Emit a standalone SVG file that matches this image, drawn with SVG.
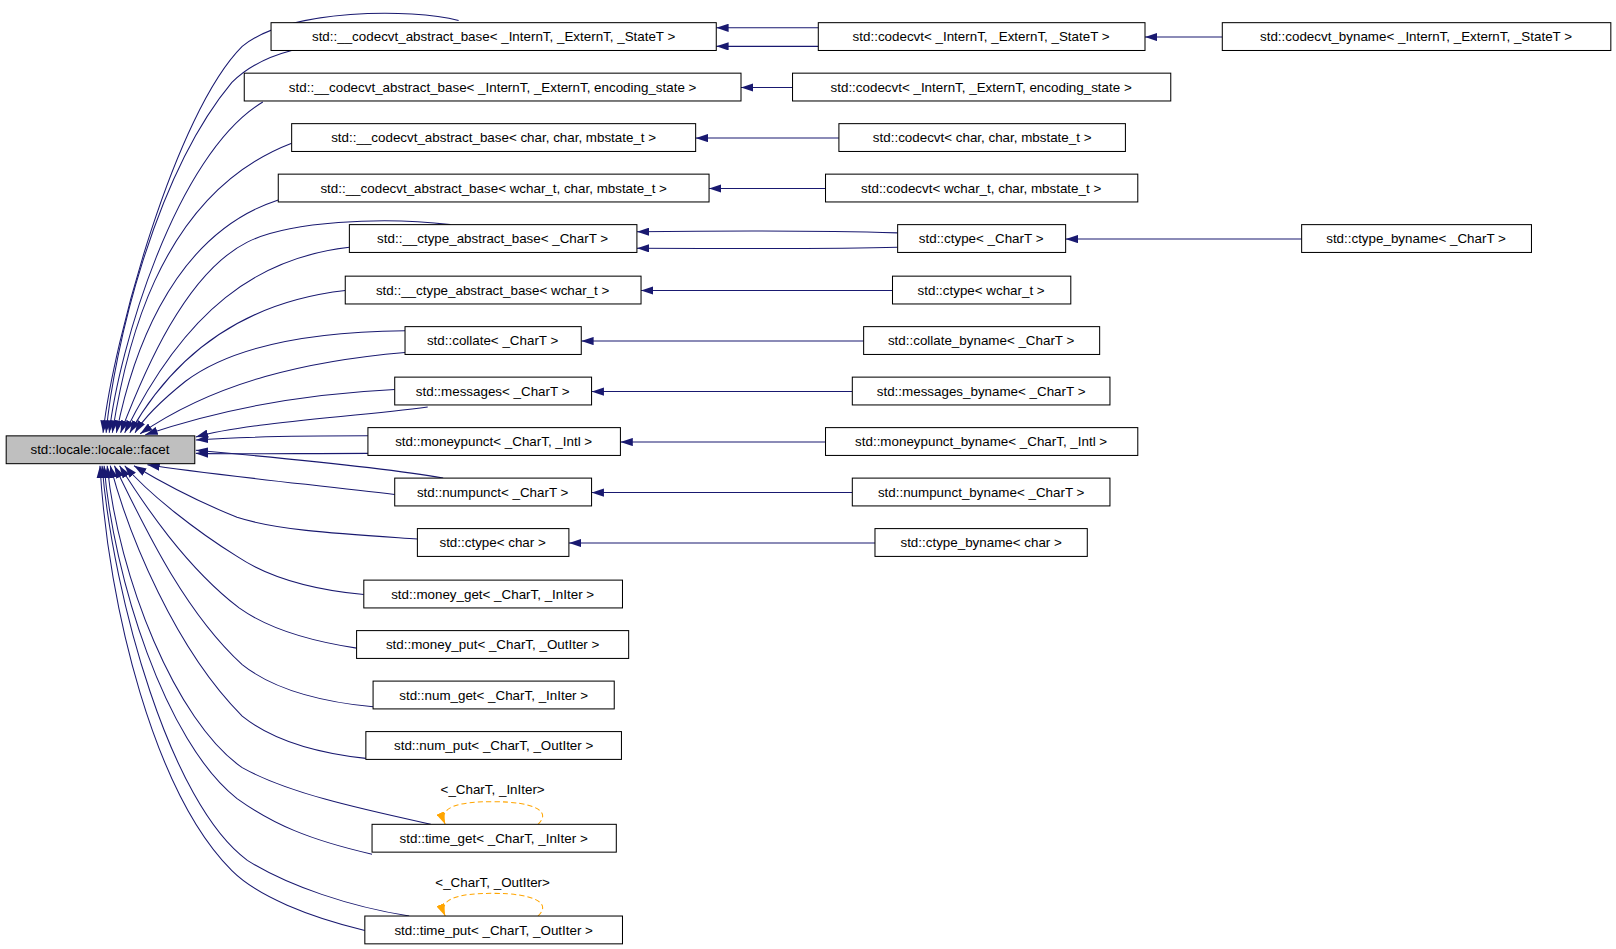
<svg xmlns="http://www.w3.org/2000/svg" width="1616" height="949" viewBox="0 0 1616 949">
<style>
.n rect{fill:#fff;stroke:#000;stroke-width:1}
.n text{font-family:"Liberation Sans",Arial,sans-serif;font-size:13px;text-anchor:middle;fill:#000}
.e path{fill:none;stroke:#191970;stroke-width:1;marker-end:url(#a)}
.s path{fill:none;stroke:#ffa500;stroke-width:1;stroke-dasharray:5,3;marker-end:url(#o)}
.lbl{font-family:"Liberation Sans",Arial,sans-serif;font-size:13px;text-anchor:middle}
</style>
<defs>
<marker id="a" viewBox="0 0 12 8" refX="12" refY="4" markerWidth="12" markerHeight="8" markerUnits="userSpaceOnUse" orient="auto"><path d="M0,0 L12,4 L0,8 z" fill="#191970"/></marker>
<marker id="o" viewBox="0 0 12 8" refX="12" refY="4" markerWidth="12" markerHeight="8" markerUnits="userSpaceOnUse" orient="auto"><path d="M0,0 L12,4 L0,8 z" fill="#ffa500"/></marker>
</defs>
<rect width="1616" height="949" fill="#fff"/>
<g transform="scale(1.0306,1.0304)">
<g id="edges" class="e">
<path d="M445,20 C400,8 280,8 235,45 C170,110 110,330 100,420"/>
<path d="M283,49 C260,55 240,65 225,80 C150,170 110,340 103,420"/>
<path d="M255,99 C170,150 115,340 106,420"/>
<path d="M283,139 C150,190 120,350 109,420"/>
<path d="M270,194 C160,230 125,360 113,420"/>
<path d="M437,218 C370,210 280,215 240,235 C180,265 140,360 117,420"/>
<path d="M339,240 C250,250 180,300 121,420"/>
<path d="M335,282 C220,295 160,360 126,420"/>
<path d="M393,321 C290,322 220,340 180,370 C155,390 140,405 131,420"/>
<path d="M393,342 C300,350 210,370 136,421"/>
<path d="M383,378 C300,382 220,395 141,422"/>
<path d="M415,395 C340,405 240,410 190,424"/>
<path d="M357,423 C290,423 230,424 190,427"/>
<path d="M357,440 C290,440 230,441 190,440"/>
<path d="M430,464 C380,455 280,445 190,437"/>
<path d="M383,480 C300,470 200,460 143,451"/>
<path d="M405,523 C330,518 270,515 230,502 C200,490 160,470 130,452"/>
<path d="M353,577 C300,572 260,560 230,540 C190,515 145,480 121,452"/>
<path d="M346,629 C300,622 260,610 232,590 C180,550 140,490 116,452"/>
<path d="M362,686 C300,680 260,665 235,645 C175,590 135,500 111,452"/>
<path d="M355,736 C300,730 260,715 235,695 C170,630 125,520 107,452"/>
<path d="M418,800 C350,785 280,770 235,745 C170,700 115,560 104,452"/>
<path d="M361,829 C300,815 265,800 230,775 C160,720 110,560 101,452"/>
<path d="M397,889 C340,880 280,860 240,835 C165,780 110,580 99,452"/>
<path d="M354,903 C300,890 250,870 225,845 C150,770 105,590 97,452"/>
<path d="M794,27 L695,27"/>
<path d="M794,45 L695,45"/>
<path d="M769,85 L719,85"/>
<path d="M814,134 L675,134"/>
<path d="M801,183 L688,183"/>
<path d="M871,226 C800,224 700,224 618,225"/>
<path d="M871,240 C800,242 700,241 618,241"/>
<path d="M866,282 L622,282"/>
<path d="M838,331 L564,331"/>
<path d="M827,380 L574,380"/>
<path d="M801,429 L602,429"/>
<path d="M827,478 L574,478"/>
<path d="M849,527 L552,527"/>
<path d="M1186,36 L1111,36"/>
<path d="M1263,232 L1034,232"/>
</g>
<g id="selfloops" class="s">
<path d="M522,800 C535,788 520,778 478,778 C442,778 425,784 432,800"/>
<path d="M522,889 C535,877 520,867 478,867 C442,867 425,873 432,889"/>
</g>
<text class="lbl" x="478" y="771">&lt;_CharT, _InIter&gt;</text>
<text class="lbl" x="478" y="861">&lt;_CharT, _OutIter&gt;</text>
<g id="facet" class="n"><rect x="6" y="423" width="183" height="27" style="fill:#bfbfbf"/><text x="97" y="441">std::locale::locale::facet</text></g>
<g id="n1" class="n"><rect x="263" y="22" width="432" height="27"/><text x="479" y="40">std::__codecvt_abstract_base&lt; _InternT, _ExternT, _StateT &gt;</text></g>
<g id="n2" class="n"><rect x="237" y="71" width="482" height="27"/><text x="478" y="89">std::__codecvt_abstract_base&lt; _InternT, _ExternT, encoding_state &gt;</text></g>
<g id="n3" class="n"><rect x="283" y="120" width="392" height="27"/><text x="479" y="138">std::__codecvt_abstract_base&lt; char, char, mbstate_t &gt;</text></g>
<g id="n4" class="n"><rect x="270" y="169" width="418" height="27"/><text x="479" y="187">std::__codecvt_abstract_base&lt; wchar_t, char, mbstate_t &gt;</text></g>
<g id="n5" class="n"><rect x="339" y="218" width="279" height="27"/><text x="478" y="236">std::__ctype_abstract_base&lt; _CharT &gt;</text></g>
<g id="n6" class="n"><rect x="335" y="268" width="287" height="27"/><text x="478" y="286">std::__ctype_abstract_base&lt; wchar_t &gt;</text></g>
<g id="n7" class="n"><rect x="393" y="317" width="171" height="27"/><text x="478" y="335">std::collate&lt; _CharT &gt;</text></g>
<g id="n8" class="n"><rect x="383" y="366" width="191" height="27"/><text x="478" y="384">std::messages&lt; _CharT &gt;</text></g>
<g id="n9" class="n"><rect x="357" y="415" width="245" height="27"/><text x="479" y="433">std::moneypunct&lt; _CharT, _Intl &gt;</text></g>
<g id="n10" class="n"><rect x="383" y="464" width="191" height="27"/><text x="478" y="482">std::numpunct&lt; _CharT &gt;</text></g>
<g id="n11" class="n"><rect x="405" y="513" width="147" height="27"/><text x="478" y="531">std::ctype&lt; char &gt;</text></g>
<g id="n12" class="n"><rect x="353" y="563" width="251" height="27"/><text x="478" y="581">std::money_get&lt; _CharT, _InIter &gt;</text></g>
<g id="n13" class="n"><rect x="346" y="612" width="264" height="27"/><text x="478" y="630">std::money_put&lt; _CharT, _OutIter &gt;</text></g>
<g id="n14" class="n"><rect x="362" y="661" width="234" height="27"/><text x="479" y="679">std::num_get&lt; _CharT, _InIter &gt;</text></g>
<g id="n15" class="n"><rect x="355" y="710" width="248" height="27"/><text x="479" y="728">std::num_put&lt; _CharT, _OutIter &gt;</text></g>
<g id="n16" class="n"><rect x="361" y="800" width="237" height="27"/><text x="479" y="818">std::time_get&lt; _CharT, _InIter &gt;</text></g>
<g id="n17" class="n"><rect x="354" y="889" width="250" height="27"/><text x="479" y="907">std::time_put&lt; _CharT, _OutIter &gt;</text></g>
<g id="c1" class="n"><rect x="794" y="22" width="317" height="27"/><text x="952" y="40">std::codecvt&lt; _InternT, _ExternT, _StateT &gt;</text></g>
<g id="c2" class="n"><rect x="769" y="71" width="367" height="27"/><text x="952" y="89">std::codecvt&lt; _InternT, _ExternT, encoding_state &gt;</text></g>
<g id="c3" class="n"><rect x="814" y="120" width="278" height="27"/><text x="953" y="138">std::codecvt&lt; char, char, mbstate_t &gt;</text></g>
<g id="c4" class="n"><rect x="801" y="169" width="303" height="27"/><text x="952" y="187">std::codecvt&lt; wchar_t, char, mbstate_t &gt;</text></g>
<g id="c5" class="n"><rect x="871" y="218" width="163" height="27"/><text x="952" y="236">std::ctype&lt; _CharT &gt;</text></g>
<g id="c6" class="n"><rect x="866" y="268" width="173" height="27"/><text x="952" y="286">std::ctype&lt; wchar_t &gt;</text></g>
<g id="c7" class="n"><rect x="838" y="317" width="229" height="27"/><text x="952" y="335">std::collate_byname&lt; _CharT &gt;</text></g>
<g id="c8" class="n"><rect x="827" y="366" width="250" height="27"/><text x="952" y="384">std::messages_byname&lt; _CharT &gt;</text></g>
<g id="c9" class="n"><rect x="801" y="415" width="303" height="27"/><text x="952" y="433">std::moneypunct_byname&lt; _CharT, _Intl &gt;</text></g>
<g id="c10" class="n"><rect x="827" y="464" width="250" height="27"/><text x="952" y="482">std::numpunct_byname&lt; _CharT &gt;</text></g>
<g id="c11" class="n"><rect x="849" y="513" width="206" height="27"/><text x="952" y="531">std::ctype_byname&lt; char &gt;</text></g>
<g id="d1" class="n"><rect x="1186" y="22" width="377" height="27"/><text x="1374" y="40">std::codecvt_byname&lt; _InternT, _ExternT, _StateT &gt;</text></g>
<g id="d2" class="n"><rect x="1263" y="218" width="223" height="27"/><text x="1374" y="236">std::ctype_byname&lt; _CharT &gt;</text></g>
</g>
</svg>
